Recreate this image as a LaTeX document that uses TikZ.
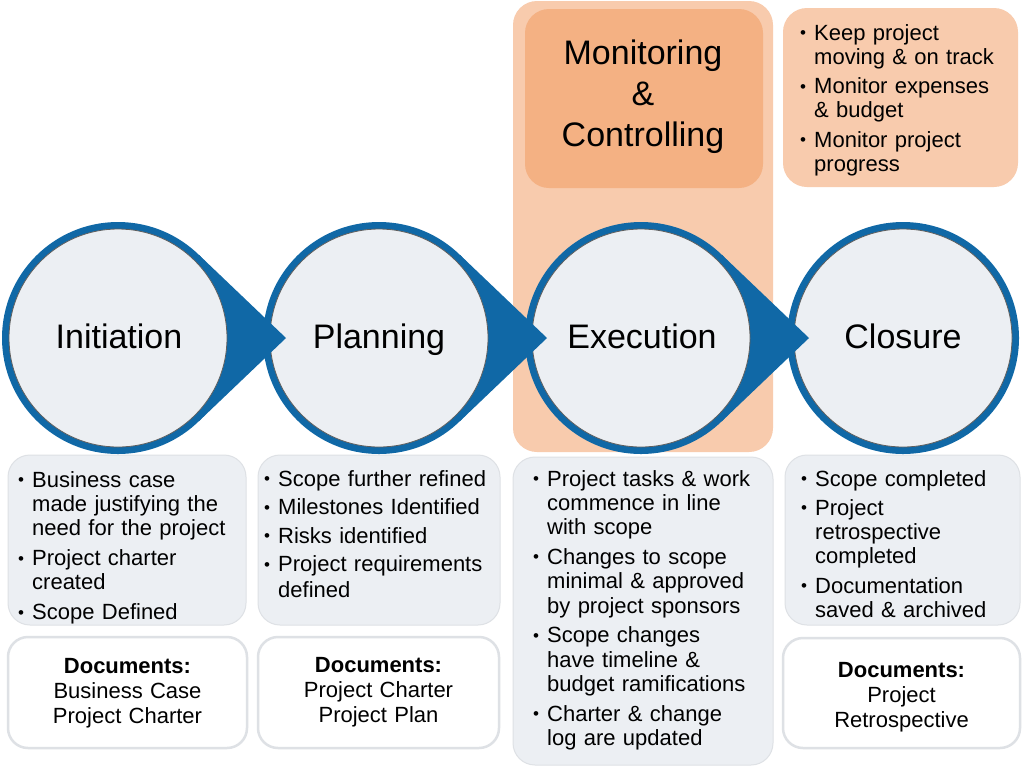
\documentclass[tikz,border=0pt]{standalone}
\usepackage{fontspec}
\setmainfont{Liberation Sans}
\definecolor{pmblue}{RGB}{16,104,166}
\definecolor{discfill}{RGB}{236,239,243}
\definecolor{discline}{RGB}{95,95,95}
\definecolor{boxfill}{RGB}{236,239,243}
\definecolor{boxline}{RGB}{222,225,229}
\definecolor{peach}{RGB}{248,203,173}
\definecolor{orangebox}{RGB}{244,177,131}
\newcommand\bul[1]{\hangindent=14pt\hangafter=1\noindent\makebox[14pt][l]{\raisebox{1.5pt}{\fontsize{17}{17}\selectfont\textbullet}}#1\par}
\tikzset{
  ring/.style={circle, fill=pmblue, minimum size=232pt, inner sep=0pt, outer sep=0pt},
  disc/.style={circle, fill=discfill, draw=discline, line width=0.8pt, minimum size=218pt, inner sep=0pt},
  heading/.style={inner sep=0pt, anchor=base, font=\fontsize{34}{40}\selectfont},
  greybox/.style={rectangle, rounded corners=22pt, fill=boxfill, draw=boxline, line width=1pt, inner sep=0pt},
  docbox/.style={rectangle, rounded corners=20pt, fill=white, draw=boxline, line width=2.5pt, inner sep=0pt},
  peachbox/.style={rectangle, rounded corners=24pt, fill=peach, inner sep=0pt},
  btext/.style={inner sep=0pt, anchor=base west, text width=#1, font=\fontsize{22}{24.3}\selectfont},
  doctext/.style={inner sep=0pt, anchor=base, text width=230pt, align=center, font=\fontsize{22}{25}\selectfont},
}
\begin{document}
\begin{tikzpicture}[x=1pt, y=-1pt]
\fill[white] (0,0) rectangle (1024,780);
\useasboundingbox (0,0) rectangle (1024,780);

% Monitoring & Controlling column
\node[peachbox, minimum width=260pt, minimum height=451pt] (column) at (643,226.5) {};
\node[peachbox, fill=orangebox, minimum width=238pt, minimum height=179pt] (monbox) at (644,98.5) {};
\node[inner sep=0pt, anchor=base, text width=230pt, align=center, font=\fontsize{34}{41}\selectfont] (montext) at (643,64) {Monitoring\\\&\\Controlling};

% top right box
\node[peachbox, minimum width=235pt, minimum height=179pt] (rightbox) at (900.5,97.5) {};
\node[btext=215pt] (righttext) at (800,40) {\setlength{\parskip}{5pt}%
\bul{Keep project\newline moving \& on track}%
\bul{Monitor expenses\newline \& budget}%
\bul{Monitor project\newline progress}};

% lower boxes
\node[greybox, minimum width=238pt, minimum height=170pt] (initbox) at (127,540) {};
\node[greybox, minimum width=242pt, minimum height=170pt] (planbox) at (379,540) {};
\node[greybox, minimum width=260pt, minimum height=308pt] (execbox) at (643,611) {};
\node[greybox, minimum width=235pt, minimum height=170pt] (closbox) at (902.5,540) {};

\node[docbox, minimum width=239pt, minimum height=111pt] (initdoc) at (127.5,692.5) {};
\node[docbox, minimum width=241pt, minimum height=111pt] (plandoc) at (378.5,692.5) {};
\node[docbox, minimum width=237pt, minimum height=110pt] (closdoc) at (901.5,693) {};

% Closure
\node[ring] (clos) at (903,338) {};
\node[disc] (closin) at (903,338) {};
\node[heading] (closlabel) at (903,348) {Closure};

% Execution
\node[ring] (exec) at (641,338) {};
\coordinate (exectip) at (809,338);
\fill[pmblue] (exec.46.33) -- (exectip) -- (exec.-46.33) -- cycle;
\node[disc] (execin) at (641,338) {};
\node[heading] (execlabel) at (642,348) {Execution};

% Planning
\node[ring] (plan) at (379,338) {};
\coordinate (plantip) at (547,338);
\fill[pmblue] (plan.46.33) -- (plantip) -- (plan.-46.33) -- cycle;
\node[disc] (planin) at (379,338) {};
\node[heading] (planlabel) at (379,348) {Planning};

% Initiation
\node[ring] (init) at (118,338) {};
\coordinate (inittip) at (286,338);
\fill[pmblue] (init.46.33) -- (inittip) -- (init.-46.33) -- cycle;
\node[disc] (initin) at (118,338) {};
\node[heading] (initlabel) at (119,348) {Initiation};

% bullet lists
\node[btext=225pt] (inittext) at (18,487) {\setlength{\parskip}{5.7pt}%
\bul{Business case\newline made justifying the\newline need for the project}%
\bul{Project charter\newline created}%
\bul{Scope Defined}};

\node[btext=235pt, font=\fontsize{22}{26}\selectfont] (plantext) at (264,486) {\setlength{\parskip}{2.5pt}%
\bul{Scope further refined}%
\bul{Milestones Identified}%
\bul{Risks identified}%
\bul{Project requirements\newline defined}};

\node[btext=245pt] (exectext) at (533,486) {\setlength{\parskip}{5.5pt}%
\bul{Project tasks \& work\newline commence in line\newline with scope}%
\bul{Changes to scope\newline minimal \& approved\newline by project sponsors}%
\bul{Scope changes\newline have timeline \&\newline budget ramifications}%
\bul{Charter \& change\newline log are updated}};

\node[btext=215pt] (clostext) at (801,486) {\setlength{\parskip}{5pt}%
\bul{Scope completed}%
\bul{Project\newline retrospective\newline completed}%
\bul{Documentation\newline saved \& archived}};

% documents
\node[doctext] (initdoctext) at (127.5,673) {\textbf{Documents:}\\Business Case\\Project Charter};
\node[doctext] (plandoctext) at (378.5,672) {\textbf{Documents:}\\Project Charter\\Project Plan};
\node[doctext] (closdoctext) at (901.5,677) {\textbf{Documents:}\\Project\\Retrospective};
\end{tikzpicture}
\end{document}
